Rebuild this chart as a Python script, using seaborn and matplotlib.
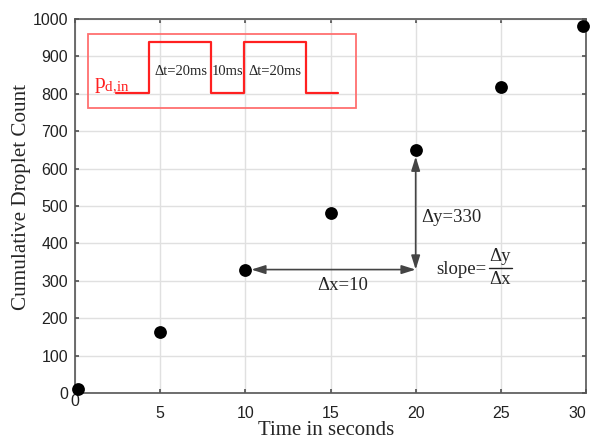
import matplotlib
matplotlib.use("Agg")
import matplotlib.pyplot as plt
import seaborn as sns
import pandas as pd

time_s = [0.2, 5, 10, 15, 20, 25, 29.8]
counts = [10, 162, 330, 482, 650, 819, 980]
x_ticks = [0, 5, 10, 15, 20, 25, 30]
y_ticks = [0, 100, 200, 300, 400, 500, 600, 700, 800, 900, 1000]

# inset pulse waveform (in data units of the host axes)
pulse_x = [2.4, 4.35, 4.35, 8.0, 8.0, 9.9, 9.9, 13.56, 13.56, 15.45]
pulse_y = [802, 802, 938, 938, 802, 802, 938, 938, 802, 802]

sns.set_theme(style="white")
plt.rcParams['font.family'] = ['Liberation Sans', 'DejaVu Sans']

fig = plt.figure(figsize=(5.91, 4.40), dpi=100)
ax = fig.add_axes([75/591, 1 - 393/440, (586-75)/591, (393-19)/440])

df = pd.DataFrame({"t": time_s, "n": counts})
sns.scatterplot(data=df, x="t", y="n", ax=ax, color="black", s=85,
                edgecolor="black", linewidth=0, zorder=5, clip_on=False)

ax.set_xlim(0, 30)
ax.set_ylim(0, 1000)
ax.set_xticks(x_ticks)
ax.set_yticks(y_ticks)
ax.grid(True, color="#e0e0e0", linewidth=1.0)
ax.set_axisbelow(True)
for s in ax.spines.values():
    s.set_color("#555555")
    s.set_linewidth(1.2)
    s.set_visible(True)
ax.tick_params(direction="in", length=3, color="#555555", labelsize=11.5,
               labelcolor="#222222", top=True, right=True, bottom=True, left=True)
ax.tick_params(axis="x", pad=9)
ax.tick_params(axis="y", pad=5)
ax.set_xlabel("Time in seconds", family=["Liberation Serif"], fontsize=15, labelpad=0)
ax.set_ylabel("Cumulative Droplet Count", family=["Liberation Serif"], fontsize=15.2, labelpad=1)
ax.xaxis.label.set_x(0.491)
ax.yaxis.label.set_y(0.523)

fig.canvas.draw()
ax.xaxis.get_major_ticks()[0].set_pad(1)
xlabels = ax.get_xticklabels()
xlabels[-1].set_horizontalalignment("right")
xlabels[-1].set_x(29.95)

# inset box
ax.add_patch(plt.Rectangle((0.76, 762), 16.5 - 0.76, 960 - 762, fill=False,
                           edgecolor="#ff7070", linewidth=1.3, zorder=3))
ax.plot(pulse_x, pulse_y, color="#ff2020", linewidth=1.6, zorder=4)
ax.text(1.1, 822, r"$\mathregular{p_{d{,}in}}$", color="#ff2020", fontsize=15.5,
        family=["Liberation Serif"], va="center", ha="left")
ax.text(6.2, 860, "Δt=20ms", fontsize=10.5, family=["Liberation Serif"], ha="center", va="center")
ax.text(8.95, 860, "10ms", fontsize=10.5, family=["Liberation Serif"], ha="center", va="center")
ax.text(11.75, 860, "Δt=20ms", fontsize=10.5, family=["Liberation Serif"], ha="center", va="center")

# arrows
arrow_kw = dict(arrowstyle="<|-|>,head_length=0.7,head_width=0.22", color="#444444",
                linewidth=1.2, shrinkA=0, shrinkB=0)
ax.annotate("", xy=(20, 330), xytext=(10.35, 330), arrowprops=arrow_kw, zorder=4)
ax.annotate("", xy=(20, 330), xytext=(20, 632), arrowprops=arrow_kw, zorder=4)
ax.text(15.7, 288, "Δx=10", fontsize=13.5, family=["Liberation Serif"], ha="center", va="center")
ax.text(20.3, 470, "Δy=330", fontsize=13.5, family=["Liberation Serif"], ha="left", va="center")
ax.text(21.2, 330, "slope=", fontsize=13.5, family=["Liberation Serif"], ha="left", va="center")
ax.text(24.98, 366, "Δy", fontsize=13.5, family=["Liberation Serif"], ha="center", va="center")
ax.text(24.98, 304, "Δx", fontsize=13.5, family=["Liberation Serif"], ha="center", va="center")
ax.plot([24.28, 25.68], [334, 334], color="#222222", linewidth=1.0)

fig.savefig("out.png", dpi=100)
